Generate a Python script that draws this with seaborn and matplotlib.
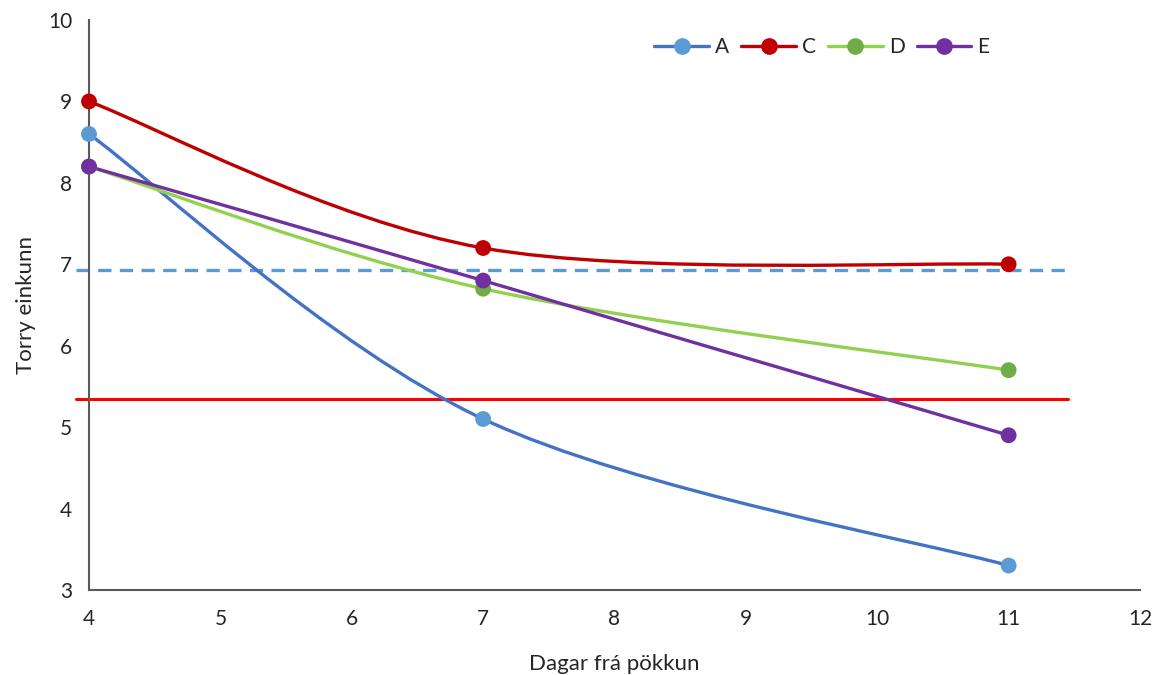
import matplotlib
matplotlib.use("Agg")
import matplotlib.pyplot as plt
from matplotlib.lines import Line2D
from matplotlib.path import Path
from matplotlib.patches import PathPatch
import numpy as np
import pandas as pd
import seaborn as sns

# Data
days = [4, 7, 11]
series_names = ["A", "C", "D", "E"]
score_a = [8.6, 5.1, 3.3]
score_c = [9.0, 7.2, 7.0]
score_d = [8.2, 6.7, 5.7]
score_e = [8.2, 6.8, 4.9]
limit_dashed = 6.93
limit_solid = 5.35

line_colors = {"A": "#4472C4", "C": "#C00000", "D": "#92D050", "E": "#7030A0"}
marker_colors = {"A": "#5B9BD5", "C": "#C00000", "D": "#70AD47", "E": "#7030A0"}


def smoothPath(x, y):
    # Excel-like smoothed line: cubic Bezier through the points
    pts = np.column_stack([x, y]).astype(float)
    n = len(pts)
    verts = [pts[0]]
    codes = [Path.MOVETO]
    for i in range(n - 1):
        p0 = pts[i - 1] if i > 0 else pts[i]
        p1 = pts[i]
        p2 = pts[i + 1]
        p3 = pts[i + 2] if i + 2 < n else pts[i + 1]
        c1 = p1 + (p2 - p0) / 6.0
        c2 = p2 - (p3 - p1) / 6.0
        verts += [c1, c2, p2]
        codes += [Path.CURVE4] * 3
    return Path(verts, codes)


sns.set_style("white")
plt.rcParams["font.family"] = ["Lato", "DejaVu Sans"]

df = pd.DataFrame(
    {
        "day": days * 4,
        "score": score_a + score_c + score_d + score_e,
        "series": sum([[s] * len(days) for s in series_names], []),
    }
)

fig, ax = plt.subplots(figsize=(11.64, 6.75), dpi=100)
fig.subplots_adjust(left=89 / 1164, right=1140 / 1164, top=1 - 20 / 675, bottom=1 - 590 / 675)

# reference lines
ax.plot([3.9, 11.45], [limit_dashed, limit_dashed], color="#5B9BD5", lw=2.4,
        linestyle=(0, (4, 2.5)), clip_on=False, zorder=2)
ax.plot([3.9, 11.45], [limit_solid, limit_solid], color="#FF0000", lw=2.2,
        clip_on=False, zorder=2)

for name in series_names:
    sub = df[df["series"] == name]
    patch = PathPatch(smoothPath(sub["day"], sub["score"]), facecolor="none",
                      edgecolor=line_colors[name], lw=2.4, zorder=3, clip_on=False)
    ax.add_patch(patch)

sns.scatterplot(data=df, x="day", y="score", hue="series", palette=marker_colors,
                s=130, edgecolor="none", legend=False, ax=ax, zorder=4, clip_on=False)

ax.set_xlim(4, 12)
ax.set_ylim(3, 10)
ax.set_xticks(range(4, 13))
ax.set_yticks(range(3, 11))
ax.tick_params(axis="both", length=0, labelsize=15, colors="#262626")
ax.tick_params(axis="x", pad=14)
ax.tick_params(axis="y", pad=12)
for side in ["top", "right"]:
    ax.spines[side].set_visible(False)
for side in ["left", "bottom"]:
    ax.spines[side].set_color("#595959")
    ax.spines[side].set_linewidth(1.5)

ax.set_xlabel("Dagar frá pökkun", fontsize=16, color="#262626", labelpad=18)
ax.set_ylabel("Torry einkunn", fontsize=16, color="#262626", labelpad=9)

handles = [
    Line2D([0], [0], color=line_colors[n], lw=2.4, marker="o", markersize=11,
           markerfacecolor=marker_colors[n], markeredgecolor=marker_colors[n])
    for n in series_names
]
ax.legend(handles, series_names, loc="center", bbox_to_anchor=(822 / 1164, 1 - 47 / 675),
          bbox_transform=fig.transFigure, ncol=4, frameon=False, fontsize=15,
          handlelength=2.6, handletextpad=0.3, columnspacing=0.6)

fig.savefig("out.png", dpi=100)
